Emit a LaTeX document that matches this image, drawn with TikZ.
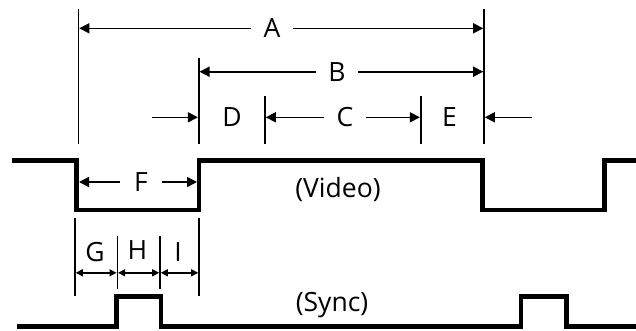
\documentclass[tikz,border=0pt]{standalone}
\usepackage{fontspec}
\setmainfont{Open Sans}
\usetikzlibrary{arrows.meta}
\begin{document}
\begin{tikzpicture}[x=1pt,y=-1pt,
  wave/.style={line width=4.2pt, line join=miter},
  ext/.style={line width=1.6pt},
  dimarrow/.style={line width=1.6pt,-{Triangle[length=10pt,width=10pt]}},
  dimboth/.style={line width=1.4pt,{Triangle[length=7pt,width=7pt]}-{Triangle[length=7pt,width=7pt]}},
  lab/.style={font=\fontsize{26.5}{26.5}\selectfont, inner sep=0pt, minimum width=42pt, minimum height=20pt},
  plain/.style={font=\fontsize{26.5}{26.5}\selectfont, inner sep=0pt},
]
\useasboundingbox (0,0) rectangle (636,330);

% video waveform
\draw[wave] (12,160.5) -- (76.5,160.5) -- (76.5,210) -- (199,210) -- (199,160.5)
  -- (482.5,160.5) -- (482.5,210) -- (604.5,210) -- (604.5,160.5) -- (640,160.5);
% sync waveform
\draw[wave] (17,326.5) -- (116.5,326.5) -- (116.5,296.5) -- (161,296.5) -- (161,326.5)
  -- (521,326.5) -- (521,296.5) -- (566.5,296.5) -- (566.5,326.5) -- (640,326.5);

% extension lines
\coordinate (e1t) at (78.5,9);   \coordinate (e1b) at (78.5,144);
\coordinate (e2t) at (198.7,58); \coordinate (e2b) at (198.7,144);
\coordinate (e3t) at (265,96);   \coordinate (e3b) at (265,144);
\coordinate (e4t) at (420.7,96); \coordinate (e4b) at (420.7,144);
\coordinate (e5t) at (484,9);    \coordinate (e5b) at (484,144);
\foreach \a/\b in {e1t/e1b,e2t/e2b,e3t/e3b,e4t/e4b,e5t/e5b}
  \draw[ext] (\a) -- (\b);

% A
\node[lab] (A) at (272,28.3) {A};
\coordinate (aL) at (79.3,28.3); \coordinate (aR) at (483.2,28.3);
\draw[dimarrow] (A.west) -- (aL);
\draw[dimarrow] (A.east) -- (aR);
% B
\node[lab] (B) at (337,71.7) {B};
\coordinate (bL) at (199.5,71.7); \coordinate (bR) at (483.2,71.7);
\draw[dimarrow] (B.west) -- (bL);
\draw[dimarrow] (B.east) -- (bR);
% C
\node[lab] (C) at (345,117.3) {C};
\coordinate (cL) at (265.8,117.3); \coordinate (cR) at (419.9,117.3);
\draw[dimarrow] (C.west) -- (cL);
\draw[dimarrow] (C.east) -- (cR);
% D, E
\node[plain] (D) at (232,117.3) {D};
\node[plain] (E) at (449.5,117.3) {E};
\coordinate (dS) at (152,117.3); \coordinate (dT) at (197.9,117.3);
\coordinate (eS) at (532,117.3); \coordinate (eT) at (484.8,117.3);
\draw[dimarrow] (dS) -- (dT);
\draw[dimarrow] (eS) -- (eT);

% F
\node[lab] (F) at (141,182) {F};
\coordinate (fL) at (79,182); \coordinate (fR) at (197,182);
\draw[dimarrow] (F.west) -- (fL);
\draw[dimarrow] (F.east) -- (fR);

% G H I
\coordinate (g1t) at (75,218);    \coordinate (g1b) at (75,296);
\coordinate (g2t) at (117.3,236); \coordinate (g2b) at (117.3,289);
\coordinate (g3t) at (160,236);   \coordinate (g3b) at (160,289);
\coordinate (g4t) at (199,218);   \coordinate (g4b) at (199,296);
\foreach \a/\b in {g1t/g1b,g2t/g2b,g3t/g3b,g4t/g4b}
  \draw[ext] (\a) -- (\b);
\coordinate (h1) at (75.8,272.8);
\coordinate (h2a) at (116.5,272.8); \coordinate (h2b) at (118.1,272.8);
\coordinate (h3a) at (159.2,272.8); \coordinate (h3b) at (160.8,272.8);
\coordinate (h4) at (198.2,272.8);
\draw[dimboth] (h1) -- (h2a);
\draw[dimboth] (h2b) -- (h3a);
\draw[dimboth] (h3b) -- (h4);
\node[plain] (G) at (95,252.5) {G};
\node[plain] (H) at (137.5,250.5) {H};
\node[plain] (I) at (178,252) {I};

% signal names
\node[plain] (video) at (338,189.5) {(Video)};
\node[plain] (sync) at (332,305.5) {(Sync)};
\end{tikzpicture}
\end{document}
